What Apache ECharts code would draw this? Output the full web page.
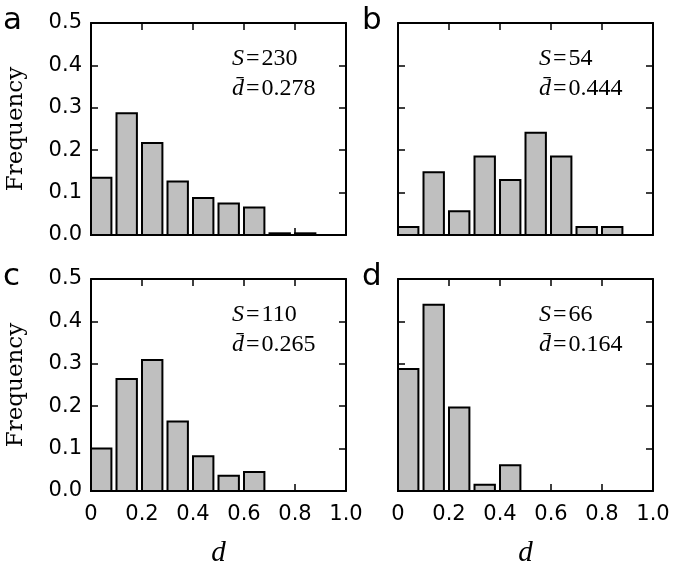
<!DOCTYPE html>
<html>
<head>
<meta charset="utf-8">
<script src="https://cdn.jsdelivr.net/npm/echarts@6/dist/echarts.min.js"></script>
<style>
  html, body { margin: 0; padding: 0; background: #fff; }
  #chart { width: 682px; height: 564px; }
</style>
</head>
<body>
<div id="chart"></div>
<script>
// ---- data ----
const binStarts = [0, 0.1, 0.2, 0.3, 0.4, 0.5, 0.6, 0.7, 0.8, 0.9];
const binWidth = 0.08;
const freqA = [0.135, 0.287, 0.217, 0.126, 0.087, 0.074, 0.065, 0.004, 0.004, 0];
const freqB = [0.019, 0.148, 0.056, 0.185, 0.130, 0.241, 0.185, 0.019, 0.019, 0];
const freqC = [0.100, 0.264, 0.309, 0.164, 0.082, 0.036, 0.045, 0, 0, 0];
const freqD = [0.288, 0.439, 0.197, 0.015, 0.061, 0, 0, 0, 0, 0];
const panelLetters = ['a', 'b', 'c', 'd'];
const sizesS = ['230', '54', '110', '66'];
const meanD = ['0.278', '0.444', '0.265', '0.164'];
const xTicks = [0, 0.2, 0.4, 0.6, 0.8, 1.0];
const yTicks = [0.0, 0.1, 0.2, 0.3, 0.4, 0.5];
const yLabelText = 'Frequency';
const xLabelText = 'd';

// ---- layout ----
const freqs = [freqA, freqB, freqC, freqD];
const gridW = 255, gridH = 212;
const lefts = [91, 398, 91, 398];
const tops = [23, 23, 279, 279];

const grids = [], xAxes = [], yAxes = [], series = [], graphics = [];
const tickStyle = { show: true, inside: true, length: 7, lineStyle: { color: '#000', width: 1.5 } };
const lineStyle = { show: true, onZero: false, lineStyle: { color: '#000', width: 2 } };
const labelFont = { fontFamily: 'DejaVu Sans', fontSize: 21, color: '#000' };

for (let i = 0; i < 4; i++) {
  const bottomRow = i >= 2, leftCol = i % 2 === 0;
  grids.push({ left: lefts[i], top: tops[i], width: gridW, height: gridH, containLabel: false });
  const xBase = { type: 'value', gridIndex: i, min: xTicks[0], max: xTicks[xTicks.length - 1], interval: 0.2,
    axisLine: lineStyle, axisTick: tickStyle, splitLine: { show: false } };
  const yBase = { type: 'value', gridIndex: i, min: yTicks[0], max: yTicks[yTicks.length - 1], interval: 0.1,
    axisLine: lineStyle, axisTick: tickStyle, splitLine: { show: false } };
  xAxes.push(Object.assign({}, xBase, { position: 'bottom',
    axisLabel: Object.assign({ show: bottomRow, margin: 13,
      formatter: v => (v === 0 ? '0' : v.toFixed(1)) }, labelFont) }));
  xAxes.push(Object.assign({}, xBase, { position: 'top', axisLabel: { show: false } }));
  yAxes.push(Object.assign({}, yBase, { position: 'left',
    axisLabel: Object.assign({ show: leftCol, margin: 9, formatter: v => v.toFixed(1) }, labelFont) }));
  yAxes.push(Object.assign({}, yBase, { position: 'right', axisLabel: { show: false } }));

  series.push({
    type: 'custom',
    xAxisIndex: 2 * i,
    yAxisIndex: 2 * i,
    encode: { x: 0, y: 1 },
    data: binStarts.map((b, k) => [b, freqs[i][k]]),
    renderItem: function (params, api) {
      const x0 = api.value(0), y = api.value(1);
      if (!y) return null;
      const p1 = api.coord([x0, y]);
      const p2 = api.coord([x0 + binWidth, 0]);
      return {
        type: 'rect',
        shape: { x: p1[0], y: p1[1], width: p2[0] - p1[0], height: p2[1] - p1[1] },
        style: { fill: '#bfbfbf', stroke: '#000', lineWidth: 2 }
      };
    },
    z: 3
  });

  // panel letter
  graphics.push({ type: 'text', x: leftCol ? 3 : 362, y: tops[i] - 2,
    style: { text: panelLetters[i], font: '31px "DejaVu Sans"', fill: '#000', textAlign: 'left', textVerticalAlign: 'middle' } });
  // annotation
  const rich = {
    i: { fontFamily: 'Liberation Serif', fontStyle: 'italic', fontSize: 24, color: '#000' },
    n: { fontFamily: 'Liberation Serif', fontSize: 24, color: '#000' }
  };
  graphics.push({ type: 'text', x: lefts[i] + 141, y: tops[i] + 36,
    style: { text: '{i|S}{n|\u200a=\u200a' + sizesS[i] + '}', rich: rich, textAlign: 'left', textVerticalAlign: 'middle' } });
  graphics.push({ type: 'text', x: lefts[i] + 141, y: tops[i] + 66,
    style: { text: '{i|d\u0304}{n|\u200a=\u200a' + meanD[i] + '}', rich: rich, textAlign: 'left', textVerticalAlign: 'middle' } });

  if (leftCol) {
    graphics.push({ type: 'text', x: 16, y: tops[i] + gridH / 2, rotation: Math.PI / 2,
      style: { text: yLabelText, font: '23px "DejaVu Serif"', fill: '#000', textAlign: 'center', textVerticalAlign: 'middle' } });
  }
  if (bottomRow) {
    graphics.push({ type: 'text', x: lefts[i] + gridW / 2, y: 553,
      style: { text: xLabelText, font: 'italic 29px "Liberation Serif"', fill: '#000', textAlign: 'center', textVerticalAlign: 'middle' } });
  }
}

const chart = echarts.init(document.getElementById('chart'), null, { renderer: 'canvas' });
chart.setOption({
  animation: false,
  backgroundColor: '#fff',
  grid: grids,
  xAxis: xAxes,
  yAxis: yAxes,
  series: series,
  graphic: graphics
});
</script>
</body>
</html>
